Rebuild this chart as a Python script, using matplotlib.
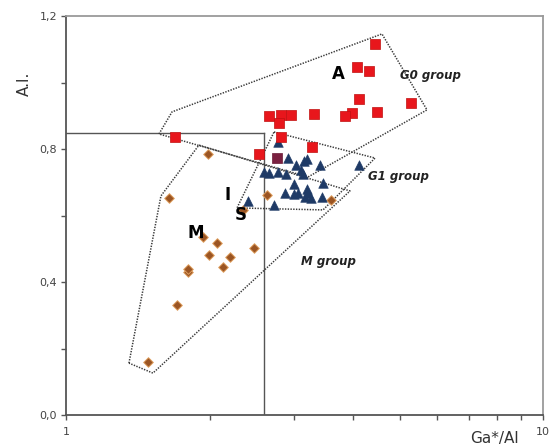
import matplotlib
matplotlib.use("Agg")
import matplotlib.pyplot as plt
from matplotlib.ticker import FixedLocator, NullFormatter, FixedFormatter

# ---- data ----
a_x = [4.44, 4.08, 4.32, 4.11, 5.29, 4.48, 3.97, 3.84, 3.31, 2.96, 2.82, 2.66,
       2.80, 2.82, 3.28, 2.54, 1.69]
a_y = [1.116, 1.049, 1.035, 0.951, 0.941, 0.914, 0.911, 0.902, 0.907, 0.904,
       0.904, 0.902, 0.881, 0.838, 0.808, 0.785, 0.838]
a2_x = [2.77]
a2_y = [0.773]

i_x = [2.786, 2.922, 3.033, 3.152, 3.194, 3.411, 4.105, 2.603, 2.667, 2.777,
       2.890, 3.107, 3.132, 3.008, 3.450, 2.876, 3.008, 3.058, 3.194, 3.219,
       3.168, 3.262, 3.434, 2.410, 2.732]
i_y = [0.823, 0.773, 0.753, 0.766, 0.771, 0.753, 0.753, 0.733, 0.728, 0.733,
       0.725, 0.738, 0.725, 0.695, 0.698, 0.668, 0.665, 0.668, 0.680, 0.668,
       0.658, 0.653, 0.658, 0.646, 0.633]

m_x = [1.981, 1.646, 2.352, 2.634, 3.592, 1.934, 2.069, 1.996, 2.206, 2.130,
       2.477, 1.804, 1.800, 1.706, 1.487]
m_y = [0.785, 0.653, 0.618, 0.664, 0.648, 0.537, 0.518, 0.482, 0.475, 0.447,
       0.504, 0.432, 0.440, 0.332, 0.160]

g0_x = [1.566, 1.668, 4.592, 5.706, 3.214]
g0_y = [0.8465, 0.913, 1.1475, 0.919, 0.717]
g1_x = [2.728, 4.441, 3.456, 2.282]
g1_y = [0.8525, 0.774, 0.618, 0.624]
mg_x = [1.355, 1.581, 1.899, 3.936, 1.521]
mg_y = [0.157, 0.660, 0.813, 0.675, 0.127]

split_x = 2.6
split_y = 0.85

y_major = [0.0, 0.4, 0.8, 1.2]
y_labels = ["0,0", "0,4", "0,8", "1,2"]
y_minor = [0.2, 0.6, 1.0]
x_minor = [2, 3, 4, 5, 6, 7, 8, 9]

# ---- figure ----
fig = plt.figure(figsize=(5.54, 4.48), dpi=100)
ax = fig.add_axes([0.1191, 0.0730, 0.8616, 0.8902])
ax.set_xscale("log")
ax.set_xlim(1, 10)
ax.set_ylim(0, 1.2)

dot = (0, (0.9, 0.9))
for px, py in [(g0_x, g0_y), (g1_x, g1_y), (mg_x, mg_y)]:
    ax.plot(px + px[:1], py + py[:1], color="#3a3a3a", lw=1.1, ls=dot, zorder=2)

ax.plot([1, split_x], [split_y, split_y], color="#555555", lw=1.0, zorder=1)
ax.plot([split_x, split_x], [0, split_y], color="#555555", lw=1.0, zorder=1)

ax.scatter(m_x, m_y, marker="D", s=24, color="#9b5523", edgecolors="#e0a060",
           linewidths=0.7, zorder=3)
ax.scatter(i_x, i_y, marker="^", s=48, color="#1e3a66", edgecolors="#1e3a66",
           linewidths=0.4, zorder=4)
ax.scatter(a_x, a_y, marker="s", s=48, color="#e8161c", edgecolors="#c01010",
           linewidths=0.5, zorder=5)
ax.scatter(a2_x, a2_y, marker="s", s=48, color="#7a2040", edgecolors="#6a1a36",
           linewidths=0.5, zorder=5)

# labels inside
ax.text(3.72, 1.028, "A", fontsize=12, fontweight="bold", ha="center", va="center")
ax.text(1.87, 0.548, "M", fontsize=12, fontweight="bold", ha="center", va="center")
ax.text(2.18, 0.663, "I", fontsize=12, fontweight="bold", ha="center", va="center")
ax.text(2.32, 0.603, "S", fontsize=12, fontweight="bold", ha="center", va="center")
ax.text(5.02, 1.021, "G0 group", fontsize=8.5, fontweight="bold", style="italic",
        ha="left", va="center", color="#222222")
ax.text(4.3, 0.718, "G1 group", fontsize=8.5, fontweight="bold", style="italic",
        ha="left", va="center", color="#222222")
ax.text(3.1, 0.462, "M group", fontsize=8.5, fontweight="bold", style="italic",
        ha="left", va="center", color="#222222")

# axes styling
for side in ["left", "bottom"]:
    ax.spines[side].set_color("#555555")
    ax.spines[side].set_linewidth(1.3)
for side in ["top", "right"]:
    ax.spines[side].set_color("#9a9a9a")
    ax.spines[side].set_linewidth(1.3)

ax.yaxis.set_major_locator(FixedLocator(y_major))
ax.yaxis.set_major_formatter(FixedFormatter(y_labels))
ax.yaxis.set_minor_locator(FixedLocator(y_minor))
ax.yaxis.set_minor_formatter(NullFormatter())
ax.xaxis.set_major_locator(FixedLocator([1, 10]))
ax.xaxis.set_major_formatter(FixedFormatter(["1", "10"]))
ax.xaxis.set_minor_locator(FixedLocator(x_minor))
ax.xaxis.set_minor_formatter(NullFormatter())
ax.tick_params(axis="both", which="both", direction="out", length=3.5, width=1,
               color="#555555", labelsize=8, labelcolor="#444444")
ax.tick_params(axis="x", which="major", pad=5)
ax.tick_params(axis="y", which="major", pad=3)

ax.set_ylabel("A.I.", fontsize=11, color="#333333", labelpad=10)
ax.yaxis.set_label_coords(-0.072, 0.83)
fig.text(0.892, 0.022, "Ga*/Al", fontsize=11, color="#333333", ha="center", va="center")

fig.savefig("out.png", dpi=100, facecolor="white")
